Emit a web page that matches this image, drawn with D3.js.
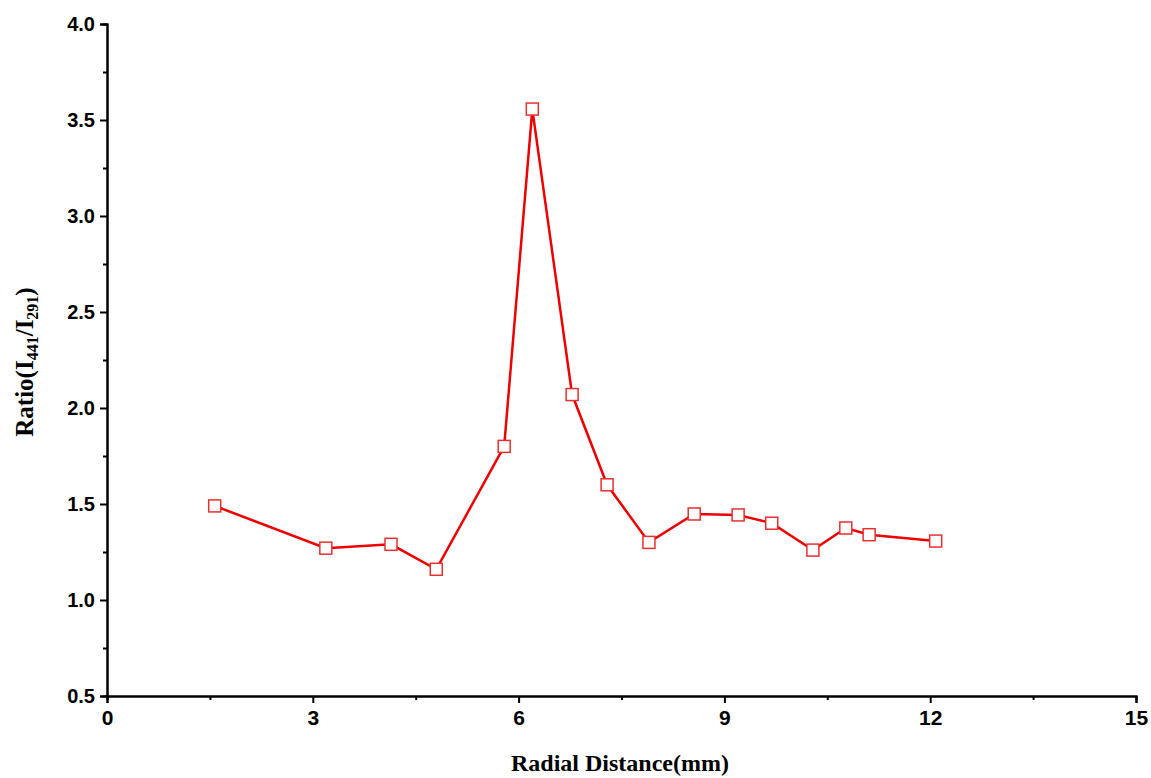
<!DOCTYPE html>
<html>
<head>
<meta charset="utf-8">
<script src="https://cdn.jsdelivr.net/npm/d3@7"></script>
<style>
  body { margin: 0; background: #fff; }
</style>
</head>
<body>
<div class="chart"></div>
<script>
// values
const distance = [1.57, 3.19, 4.14, 4.80, 5.79, 6.20, 6.78, 7.29, 7.90, 8.56, 9.20, 9.69, 10.29, 10.77, 11.11, 12.08]
const ratio = [1.49, 1.27, 1.29, 1.16, 1.80, 3.557, 2.07, 1.60, 1.30, 1.448, 1.443, 1.40, 1.26, 1.375, 1.34, 1.307]
const xTicks = [0, 3, 6, 9, 12, 15]
const yTicks = [0.5, 1.0, 1.5, 2.0, 2.5, 3.0, 3.5, 4.0]

function drawChart() {
    const dataset = distance.map((d, i) => ({ x: d, y: ratio[i] }))

    const dimensions = {
        width: 1151,
        height: 778,
        margin: { top: 24, right: 15, bottom: 82, left: 107 }
    }
    const innerW = dimensions.width - dimensions.margin.left - dimensions.margin.right
    const innerH = dimensions.height - dimensions.margin.top - dimensions.margin.bottom

    const svg = d3.select(".chart")
        .append("svg")
        .attr("width", dimensions.width)
        .attr("height", dimensions.height)

    const container = svg.append("g")
        .attr("transform", `translate(${dimensions.margin.left}, ${dimensions.margin.top})`)

    const xScale = d3.scaleLinear().domain([0, 15]).range([0, innerW])
    const yScale = d3.scaleLinear().domain([0.5, 4.0]).range([innerH, 0])

    // minor ticks first, then majors with labels
    const xMinor = container.append("g")
        .attr("transform", `translate(0, ${innerH})`)
        .call(d3.axisBottom(xScale).tickValues(d3.range(1.5, 15, 3)).tickSize(4).tickFormat(""))
    const yMinor = container.append("g")
        .call(d3.axisLeft(yScale).tickValues(d3.range(0.75, 4, 0.5)).tickSize(4).tickFormat(""))

    const xAxis = container.append("g")
        .attr("transform", `translate(0, ${innerH})`)
        .call(d3.axisBottom(xScale).tickValues(xTicks).tickSize(7).tickPadding(7).tickFormat(d3.format("d")))
    const yAxis = container.append("g")
        .call(d3.axisLeft(yScale).tickValues(yTicks).tickSize(7).tickPadding(5).tickFormat(d3.format(".1f")))

    ;[xMinor, yMinor, xAxis, yAxis].forEach(ax => {
        ax.select(".domain").attr("stroke", "#000").attr("stroke-width", 2)
        ax.selectAll(".tick line").attr("stroke", "#000").attr("stroke-width", 2)
    })
    xAxis.selectAll(".tick text")
        .attr("font-family", "'Liberation Sans', Arial, sans-serif")
        .attr("font-weight", "bold")
        .attr("font-size", 21)
        .attr("fill", "#000")
    yAxis.selectAll(".tick text")
        .attr("font-family", "'Liberation Sans', Arial, sans-serif")
        .attr("font-weight", "bold")
        .attr("font-size", 20)
        .attr("fill", "#000")

    const line = d3.line().x(d => xScale(d.x)).y(d => yScale(d.y))

    container.append("path")
        .datum(dataset)
        .attr("d", line)
        .attr("fill", "none")
        .attr("stroke", "#ee0000")
        .attr("stroke-width", 2.5)

    container.selectAll("rect.marker")
        .data(dataset)
        .join("rect")
        .attr("class", "marker")
        .attr("x", d => xScale(d.x) - 6)
        .attr("y", d => yScale(d.y) - 6)
        .attr("width", 12)
        .attr("height", 12)
        .attr("fill", "#fff")
        .attr("stroke", "#e83030")
        .attr("stroke-width", 1.5)

    // axis titles
    svg.append("text")
        .attr("x", 620)
        .attr("y", 771)
        .attr("text-anchor", "middle")
        .attr("font-family", "'Liberation Serif', 'Times New Roman', serif")
        .attr("font-weight", "bold")
        .attr("font-size", 24)
        .text("Radial Distance(mm)")

    const yTitle = svg.append("text")
        .attr("transform", "translate(33, 362) rotate(-90)")
        .attr("text-anchor", "middle")
        .attr("font-family", "'Liberation Serif', 'Times New Roman', serif")
        .attr("font-weight", "bold")
        .attr("font-size", 25)
    yTitle.append("tspan").text("Ratio(I")
    yTitle.append("tspan").attr("font-size", 16).attr("dy", 5).text("441")
    yTitle.append("tspan").attr("dy", -5).text("/I")
    yTitle.append("tspan").attr("font-size", 16).attr("dy", 5).text("291")
    yTitle.append("tspan").attr("dy", -5).text(")")
}

drawChart()
</script>
</body>
</html>
